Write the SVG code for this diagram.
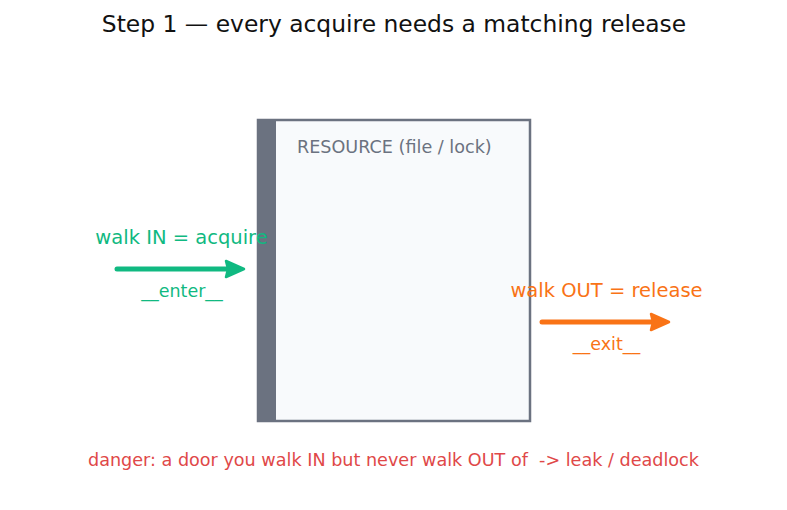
<svg xmlns="http://www.w3.org/2000/svg" width="787" height="510" viewBox="0 0 787 510">
<style>
text{font-family:"DejaVu Sans","Liberation Sans",sans-serif}
.title{font-size:23.4px;fill:#111111}
.res{font-size:17.6px;fill:#6b7280}
.lbl{font-size:19.5px}
.sub{font-size:17.5px}
.green{fill:#10b981}
.orange{fill:#f97316}
.warn{font-size:17.6px;fill:#e04848;white-space:pre}
</style>
<rect width="787" height="510" fill="#ffffff"/>
<text class="title" x="394" y="32" text-anchor="middle">Step 1 — every acquire needs a matching release</text>
<g id="resource">
<rect x="258" y="120" width="272" height="301" fill="#f8fafc" stroke="#6b7280" stroke-width="2.5"/>
<rect x="257" y="119" width="19" height="303" fill="#6b7280"/>
<text class="res" x="297" y="153">RESOURCE (file / lock)</text>
</g>
<g id="connectors">
<g id="enter-arrow">
<line x1="117" y1="269" x2="230" y2="269" stroke="#10b981" stroke-width="5" stroke-linecap="round"/>
<path d="M244,269 L226,261 L228,269 L226,277 Z" fill="#10b981" stroke="#10b981" stroke-width="2.5" stroke-linejoin="round"/>
</g>
<g id="exit-arrow">
<line x1="542" y1="322" x2="655" y2="322" stroke="#f97316" stroke-width="5" stroke-linecap="round"/>
<path d="M669,322 L651,314 L653,322 L651,330 Z" fill="#f97316" stroke="#f97316" stroke-width="2.5" stroke-linejoin="round"/>
</g>
</g>
<g id="enter-label">
<text class="lbl green" x="181.5" y="244" text-anchor="middle">walk IN = acquire</text>
<text class="sub green" x="182" y="297" text-anchor="middle">__enter__</text>
</g>
<g id="exit-label">
<text class="lbl orange" x="606.5" y="297" text-anchor="middle">walk OUT = release</text>
<text class="sub orange" x="606.5" y="350" text-anchor="middle">__exit__</text>
</g>
<text class="warn" x="393.5" y="466" text-anchor="middle" xml:space="preserve">danger: a door you walk IN but never walk OUT of  -&gt; leak / deadlock</text>
</svg>
